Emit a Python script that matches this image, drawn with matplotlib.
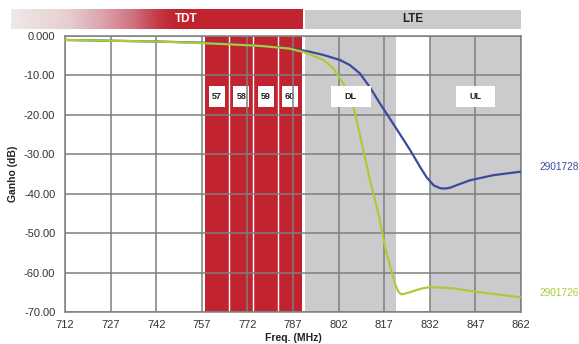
import numpy as np
import matplotlib
matplotlib.use("Agg")
import matplotlib.pyplot as plt
from matplotlib.colors import LinearSegmentedColormap
from matplotlib.patches import Rectangle

plt.rcParams['font.family'] = ['Liberation Sans', 'DejaVu Sans']

# ---- data ----
x_ticks = [712, 727, 742, 757, 772, 787, 802, 817, 832, 847, 862]
y_ticks = [0, -10, -20, -30, -40, -50, -60, -70]
y_labels = ["0.000", "-10.00", "-20.00", "-30.00", "-40.00", "-50.00", "-60.00", "-70.00"]

blue_name = "2901728"
blue_f = [712, 727, 742, 757, 766, 776, 786, 792.6, 797, 802.5, 805.75, 809, 812.3,
          815.6, 818.9, 821.1, 825.5, 828.8, 831, 833.3, 835.4, 837, 838.6, 842, 845.2,
          852.9, 862]
blue_g = [-1.0, -1.2, -1.4, -1.7, -2.0, -2.5, -3.1, -4.0, -4.8, -6.1, -7.4, -9.5, -13.0,
          -17.1, -21.0, -23.6, -28.9, -33.2, -35.9, -37.9, -38.6, -38.7, -38.5, -37.5,
          -36.6, -35.3, -34.4]

green_name = "2901726"
green_f = [712, 727, 742, 750, 763, 776, 786, 791.5, 797, 800.3, 803.5, 805.75, 807.5,
           810.1, 812.3, 815.1, 817.3, 819.5, 820.7, 821.7, 822.6, 823.5, 825, 826.6,
           829, 832, 839.7, 847.4, 862]
green_g = [-1.0, -1.2, -1.4, -1.6, -2.0, -2.5, -3.2, -4.3, -6.1, -8.2, -12.0, -15.4, -19.8,
           -28.9, -36.5, -45.0, -53.5, -60.0, -63.2, -64.9, -65.5, -65.4, -65.1, -64.7,
           -64.1, -63.7, -64.0, -64.9, -66.3]

tdt_channels = ["57", "58", "59", "60"]
tdt_edges = [758, 766, 774, 782, 790]
lte_bands = ["DL", "UL"]
lte_edges = [(791, 821), (832, 862)]

RED = "#c1232f"
GREY = "#cbcbcd"
BLUE = "#3b4a9c"
GREEN = "#a8cc3a"
GRID = "#7f7f7f"

fig = plt.figure(figsize=(5.79, 3.44), dpi=100)
ax = fig.add_axes([65/579, 1-312/344, (521-65)/579, 276/344])

# backgrounds
ax.axvspan(tdt_edges[0], tdt_edges[-1], color=RED, lw=0, zorder=0)
for e in tdt_edges[1:-1]:
    ax.axvline(e, color="white", lw=1.0, zorder=0.5)
for lo, hi in lte_edges:
    ax.axvspan(lo, hi, color=GREY, lw=0, zorder=0)

# grid
for xt in x_ticks:
    ax.axvline(xt, color=GRID, lw=1.1, zorder=1)
for yt in y_ticks:
    ax.axhline(yt, color=GRID, lw=1.1, zorder=1)

# channel boxes
ybox_top, ybox_bot = -12.7, -18.0
for i, lab in enumerate(tdt_channels):
    c = (tdt_edges[i] + tdt_edges[i+1]) / 2
    w = 5.3
    ax.add_patch(Rectangle((c - w/2, ybox_bot), w, ybox_top - ybox_bot,
                           facecolor="white", edgecolor="none", zorder=0.8))
    ax.text(c, (ybox_top + ybox_bot)/2, lab, ha="center", va="center",
            fontsize=6.5, fontweight="bold", color="#222222", zorder=0.9)
for (lo, hi), lab in zip(lte_edges, lte_bands):
    c = (lo + hi) / 2
    w = 13
    ax.add_patch(Rectangle((c - w/2, ybox_bot), w, ybox_top - ybox_bot,
                           facecolor="white", edgecolor="none", zorder=3.5))
    ax.text(c, (ybox_top + ybox_bot)/2, lab, ha="center", va="center",
            fontsize=6.5, fontweight="bold", color="#222222", zorder=3.6)

# curves
ax.plot(blue_f, blue_g, color=BLUE, lw=1.6, zorder=3, solid_capstyle="round",
        solid_joinstyle="round")
ax.plot(green_f, green_g, color=GREEN, lw=1.6, zorder=3.1, solid_capstyle="round",
        solid_joinstyle="round")

ax.set_xlim(712, 862)
ax.set_ylim(-70, 0)

# header bars
bar_lo, bar_hi = 1.78, 6.6
cmap = LinearSegmentedColormap.from_list(
    "tdt", [(0, "#eeeae7"), (0.2, "#e6cdd0"), (0.32, "#dca0aa"), (0.42, "#cf7080"),
            (0.5, "#c63a48"), (0.56, RED), (1.0, RED)])
grad = np.linspace(0, 1, 256).reshape(1, -1)
ax.imshow(grad, cmap=cmap, extent=(694.2, 790, bar_lo, bar_hi), aspect="auto",
          clip_on=False, zorder=5, interpolation="bilinear")
ax.add_patch(Rectangle((791, bar_lo), 862 - 791, bar_hi - bar_lo, facecolor=GREY,
                       edgecolor="none", clip_on=False, zorder=5))
ax.text(752, (bar_lo + bar_hi)/2, "TDT", ha="center", va="center", color="white",
        fontsize=8.5, fontweight="bold", zorder=6, clip_on=False)
ax.text(826.5, (bar_lo + bar_hi)/2, "LTE", ha="center", va="center", color="#222222",
        fontsize=8.5, fontweight="bold", zorder=6, clip_on=False)
ax.set_xlim(712, 862)
ax.set_ylim(-70, 0)

# ticks
ax.set_xticks(x_ticks)
ax.set_xticklabels([str(v) for v in x_ticks])
ax.set_yticks(y_ticks)
ax.set_yticklabels(y_labels)
ax.tick_params(axis="both", length=0, labelsize=8, labelcolor="#333333")
ax.tick_params(axis="x", pad=6)
ax.tick_params(axis="y", pad=7)
for s in ax.spines.values():
    s.set_color(GRID)
    s.set_linewidth(1.1)

ax.set_xlabel("Freq. (MHz)", fontsize=7.5, fontweight="bold", color="#222222", labelpad=2)
ax.set_ylabel("Ganho (dB)", fontsize=7.5, fontweight="bold", color="#222222", labelpad=4)

# series labels
ax.text(1.04, (-33.2 + 70) / 70, blue_name, transform=ax.transAxes, color=BLUE,
        fontsize=7.3, ha="left", va="center")
ax.text(1.04, (-65.2 + 70) / 70, green_name, transform=ax.transAxes, color=GREEN,
        fontsize=7.3, ha="left", va="center")

fig.savefig("out.png", dpi=100)
